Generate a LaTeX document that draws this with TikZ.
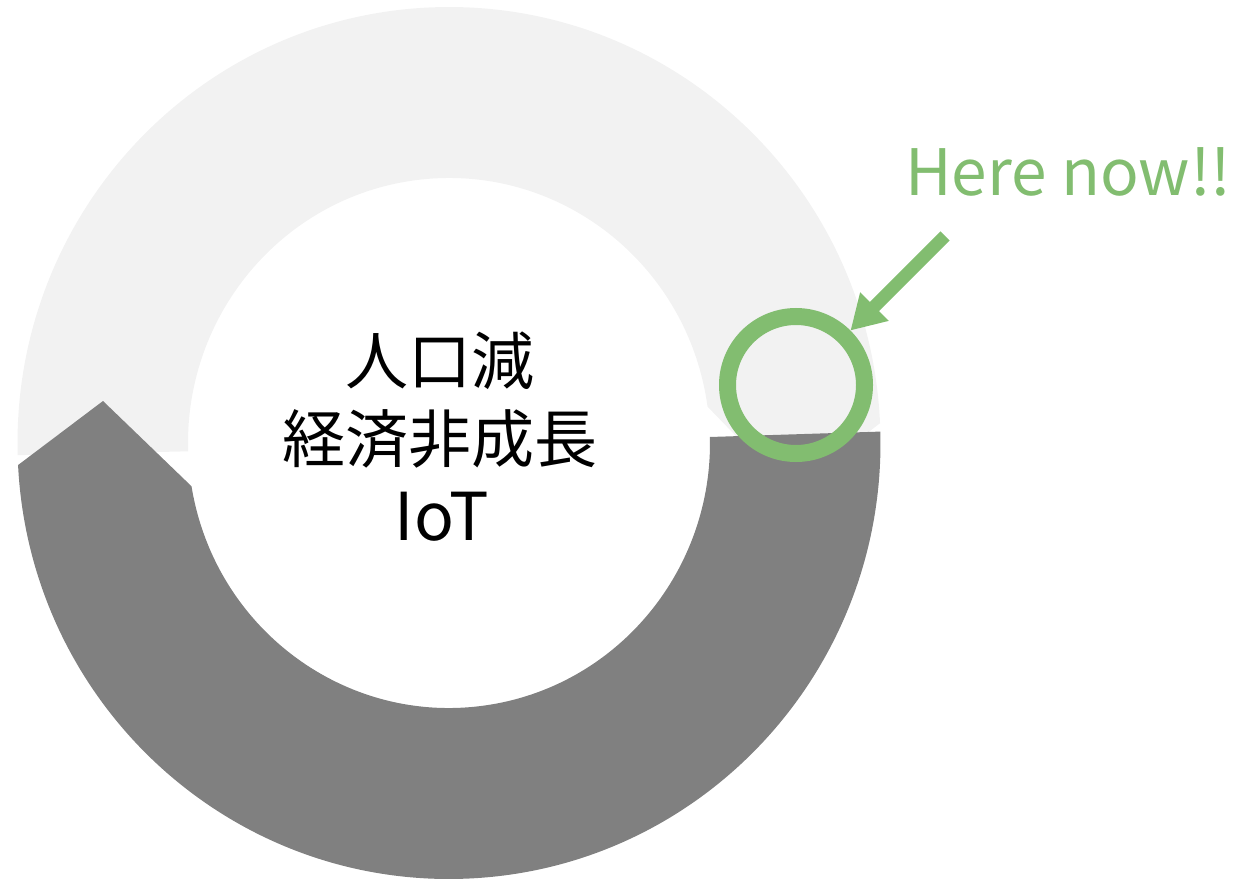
\documentclass[tikz,border=0pt]{standalone}
\usepackage{fontspec}
\newfontfamily\jp{Noto Sans CJK JP}
\usetikzlibrary{arrows.meta,calc}
\definecolor{lg}{HTML}{F2F2F2}
\definecolor{dg}{HTML}{808080}
\definecolor{gr}{RGB}{130,189,112}
\tikzset{
  bigtxt/.style={font=\jp\fontsize{63}{63}\selectfont, anchor=base, inner sep=0pt, text=black},
  iottxt/.style={font=\jp\fontsize{66}{66}\selectfont, anchor=base, inner sep=0pt, text=black},
  heretxt/.style={font=\jp\fontsize{64}{64}\selectfont, anchor=base west, inner sep=0pt, text=gr},
  ringstyle/.style={circle, draw=gr, line width=17pt, minimum size=137pt, inner sep=0pt},
  pointer/.style={draw=gr, line width=13pt, -{Triangle[length=34pt,width=38pt]}}
}
\begin{document}
\begin{tikzpicture}[x=1pt,y=-1pt]
\useasboundingbox (0,0) rectangle (1239,880);
\coordinate (C) at (449,443);
% light gray band (upper half, arrow head hidden under the dark band)
\fill[lg] ($(C)+(178.4:431.5 and 436)$) arc[start angle=178.4, end angle=357.4, x radius=431.5, y radius=436]
  -- (790,492) -- ($(C)+(352.1:261 and 265)$) arc[start angle=352.1, end angle=178.2, x radius=261, y radius=265] -- cycle;
% dark gray band (lower half with arrow head at left)
\fill[dg] ($(C)+(358.7:261 and 265)$) -- ($(C)+(358.5:431.5 and 436)$) arc[start angle=358.5, end angle=537.1, x radius=431.5, y radius=436]
  -- (103,401) -- ($(C)+(170.6:261 and 265)$) arc[start angle=170.6, end angle=-1.3, x radius=261, y radius=265] -- cycle;
% center text
\node[bigtxt] (t1) at (440,384) {人口減};
\node[bigtxt] (t2) at (440,462) {経済非成長};
\node[iottxt] (t3) at (442,540) {IoT};
% green marker
\node[ringstyle] (ring) at (796,385) {};
\coordinate (as) at (945,236);
\draw[pointer] (as) -- (ring);
\node[heretxt] (here) at (905,195) {Here now!!};
\end{tikzpicture}
\end{document}
